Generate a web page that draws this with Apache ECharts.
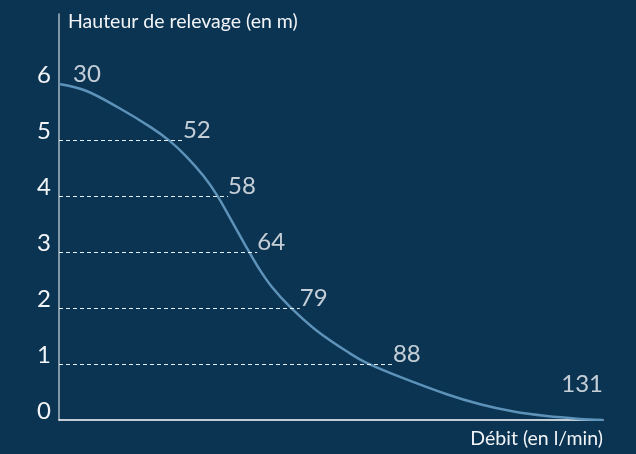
<!DOCTYPE html>
<html>
<head>
<meta charset="utf-8">
<script src="https://cdn.jsdelivr.net/npm/echarts@6/dist/echarts.min.js"></script>
<style>
  html, body { margin: 0; padding: 0; background: #0b3352; }
  #chart { width: 636px; height: 454px; }
</style>
</head>
<body>
<div id="chart"></div>
<script>
// ==================== 数据 ====================

// 泵曲线（从图上读取：流量 l/min，扬程 m）
const curveFlow = [30, 35, 41, 47, 50.6, 53.7, 56.8, 59.3, 61.8, 64.6, 66.9, 69.5, 72.9, 77.8, 84.0, 87.1, 93.3, 102.0, 108.2, 114.4, 120.5, 126.7, 131];
const curveHeight = [6.0, 5.88, 5.58, 5.23, 4.98, 4.70, 4.36, 4.02, 3.60, 3.12, 2.74, 2.38, 2.02, 1.60, 1.19, 1.02, 0.77, 0.46, 0.28, 0.15, 0.07, 0.02, 0];

// 标注：每个扬程对应的流量
const ratedHeight = [6, 5, 4, 3, 2, 1, 0];
const ratedFlow = [30, 52, 58, 64, 79, 88, 131];
// 虚线终点 / 标注位置（图上读取，x 轴单位）
const markFlow = [32.6, 53.0, 61.4, 66.8, 74.7, 92.0, 131];

const yTicks = [0, 1, 2, 3, 4, 5, 6];

// ==================== 配置 ====================

const TEXT_COLOR = '#f2f5f8';
const FONT = 'Lato, "Noto Sans", sans-serif';

const curveData = curveFlow.map((f, i) => [f, curveHeight[i]]);

const dashLines = ratedHeight
    .map((h, i) => ({ h, x: markFlow[i] }))
    .filter(d => d.h > 0 && d.h < 6)
    .map(d => [{ coord: [30, d.h] }, { coord: [d.x, d.h] }]);

const labelData = ratedHeight.map((h, i) => {
    const item = { value: [markFlow[i], h], name: String(ratedFlow[i]) };
    if (h === 0) {
        item.label = { align: 'right', offset: [0, -26] };
    }
    return item;
});

const chart = echarts.init(document.getElementById('chart'));

chart.setOption({
    backgroundColor: '#0b3352',
    animation: false,
    grid: { left: 59, right: 33, top: 14, bottom: 34 },
    xAxis: {
        type: 'value',
        min: 30,
        max: 131,
        name: 'Débit (en l/min)',
        nameLocation: 'end',
        nameGap: 0,
        nameTextStyle: {
            color: TEXT_COLOR, fontFamily: FONT, fontSize: 19.5,
            align: 'right', verticalAlign: 'top', padding: [9, 0, 0, 0]
        },
        axisLine: { show: true, lineStyle: { color: '#ffffff', width: 1.5 } },
        axisTick: { show: false },
        axisLabel: { show: false },
        splitLine: { show: false }
    },
    yAxis: {
        type: 'value',
        min: 0,
        max: 7.25,
        interval: 1,
        name: 'Hauteur de relevage (en m)',
        nameLocation: 'end',
        nameGap: -8,
        nameTextStyle: {
            color: TEXT_COLOR, fontFamily: FONT, fontSize: 19.5,
            align: 'left', verticalAlign: 'middle', padding: [0, 0, 0, 9]
        },
        axisLine: { show: true, lineStyle: { color: '#a9b8c5', width: 1.5 } },
        axisTick: { show: false },
        splitLine: { show: false },
        axisLabel: {
            color: TEXT_COLOR,
            fontFamily: FONT,
            fontSize: 24,
            margin: 8,
            verticalAlign: 'bottom',
            lineHeight: 18,
            formatter: v => (yTicks.indexOf(v) >= 0 ? String(v) : '')
        }
    },
    series: [
        {
            name: 'courbe',
            type: 'line',
            data: curveData,
            smooth: 0.35,
            showSymbol: false,
            lineStyle: { color: '#5d92b9', width: 2.5 },
            silent: true,
            markLine: {
                silent: true,
                symbol: 'none',
                label: { show: false },
                lineStyle: { color: '#e6edf2', type: [4, 3], width: 1 },
                data: dashLines
            }
        },
        {
            name: 'débits',
            type: 'scatter',
            data: labelData,
            symbolSize: 0,
            silent: true,
            label: {
                show: true,
                position: [0, 2],
                align: 'left',
                verticalAlign: 'bottom',
                color: TEXT_COLOR,
                fontFamily: FONT,
                fontSize: 24,
                formatter: p => p.name
            }
        }
    ]
});
</script>
</body>
</html>
